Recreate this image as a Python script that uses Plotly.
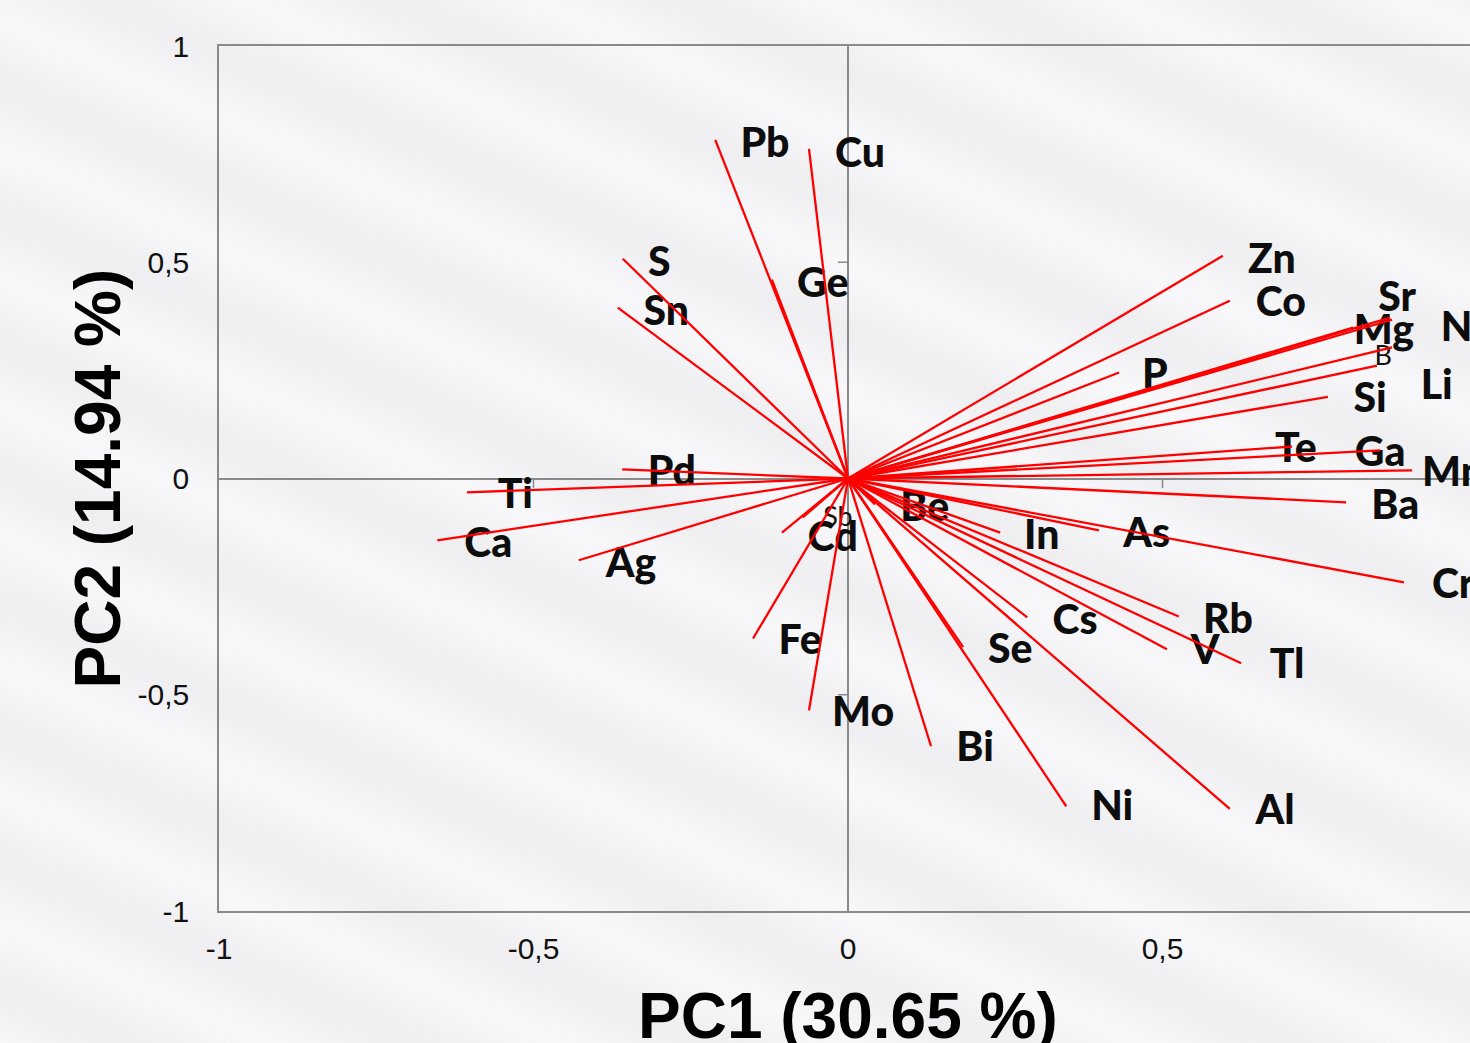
import base64
import plotly.graph_objects as go

# PCA loadings of the measured elements (PC1, PC2)
elements = ["Pb", "Cu", "Ge", "S", "Sn", "Zn", "Co", "P", "Sr", "Mg", "Na", "B", "Li", "Si",
            "Te", "Ga", "Mn", "Ba", "Cr", "As", "In", "Be", "Rb", "V", "Tl", "Cs", "Se", "Al",
            "Ni", "Bi", "Mo", "Fe", "Cd", "Sb", "Ag", "Ca", "Ti", "Pd"]
pc1 = [-0.211, -0.062, -0.121, -0.358, -0.366, 0.596, 0.607, 0.431, 0.862, 0.803, 0.865, 0.865,
       0.841, 0.763, 0.706, 0.846, 0.897, 0.792, 0.884, 0.399, 0.242, 0.043, 0.526, 0.507,
       0.625, 0.285, 0.183, 0.607, 0.347, 0.132, -0.062, -0.151, -0.105, -0.072, -0.428,
       -0.653, -0.606, -0.359]
pc2 = [0.783, 0.762, 0.460, 0.508, 0.395, 0.515, 0.411, 0.245, 0.372, 0.349, 0.367, 0.303,
       0.261, 0.189, 0.074, 0.065, 0.019, -0.055, -0.240, -0.120, -0.125, -0.060, -0.319,
       -0.395, -0.427, -0.321, -0.390, -0.764, -0.758, -0.619, -0.536, -0.370, -0.125,
       -0.090, -0.189, -0.143, -0.032, 0.021]

# Where each element name is written
label_x = [-0.132, 0.019, -0.040, -0.300, -0.289, 0.674, 0.688, 0.488, 0.873, 0.852, 0.984, 0.851,
           0.936, 0.830, 0.712, 0.846, 0.962, 0.870, 0.962, 0.475, 0.308, 0.122, 0.604, 0.568,
           0.698, 0.361, 0.258, 0.679, 0.420, 0.202, 0.024, -0.076, -0.024, -0.016, -0.345,
           -0.572, -0.529, -0.280]
label_y = [0.766, 0.745, 0.443, 0.493, 0.378, 0.500, 0.399, 0.232, 0.410, 0.334, 0.341, 0.278,
           0.207, 0.177, 0.062, 0.052, 0.006, -0.070, -0.252, -0.135, -0.139, -0.075, -0.333,
           -0.405, -0.437, -0.336, -0.403, -0.774, -0.765, -0.629, -0.548, -0.382, -0.144,
           -0.094, -0.204, -0.158, -0.045, 0.008]
small_labels = {"B", "Sb"}

tick_vals = [-1, -0.5, 0, 0.5, 1]
tick_text = ["-1", "-0,5", "0", "0,5", "1"]
x_title = "PC1 (30.65 %)"
y_title = "PC2 (14.94 %)"

LABEL_FONT = "Lato, 'Noto Sans', sans-serif"
AXIS_FONT = "'Liberation Sans', Arial, sans-serif"
GREY = "#8a8a8a"

W, H = 1470, 1043
M_L, M_R, M_T, M_B = 219, 0, 46, 132

# soft, blurred diagonal streaks for the page background
bands = "".join(
    f'<rect x="-800" y="{y}" width="3600" height="46" fill="#d9d9df"/>'
    for y in range(-900, 2000, 118)
)
texture_svg = (
    f'<svg xmlns="http://www.w3.org/2000/svg" width="{W}" height="{H}" viewBox="0 0 {W} {H}">'
    '<defs><filter id="soft" x="-20%" y="-20%" width="140%" height="140%">'
    '<feGaussianBlur stdDeviation="24"/></filter></defs>'
    f'<rect width="{W}" height="{H}" fill="#f9f9fb"/>'
    f'<g filter="url(#soft)" opacity="0.45"><g transform="rotate(24 {W/2} {H/2})">{bands}</g></g>'
    '</svg>'
)
texture_uri = "data:image/svg+xml;base64," + base64.b64encode(texture_svg.encode()).decode()

fig = go.Figure()

# element names (drawn first so the loading vectors sit on top)
big = [i for i, e in enumerate(elements) if e not in small_labels]
small = [i for i, e in enumerate(elements) if e in small_labels]
fig.add_trace(go.Scatter(
    x=[label_x[i] for i in big], y=[label_y[i] for i in big],
    text=[elements[i] for i in big], mode="text", textposition="middle center",
    textfont=dict(family=LABEL_FONT, size=41, color="#0d0d0d", weight=900),
    cliponaxis=False, hoverinfo="skip", showlegend=False))
fig.add_trace(go.Scatter(
    x=[label_x[i] for i in small], y=[label_y[i] for i in small],
    text=[elements[i] for i in small], mode="text", textposition="middle center",
    textfont=dict(family=LABEL_FONT, size=27, color="#111111"),
    cliponaxis=False, hoverinfo="skip", showlegend=False))

# loading vectors from the origin
vx, vy = [], []
for a, b in zip(pc1, pc2):
    vx += [0, a, None]
    vy += [0, b, None]
fig.add_trace(go.Scatter(x=vx, y=vy, mode="lines",
                         line=dict(color="#ff0000", width=2.3),
                         hoverinfo="skip", showlegend=False))

# small tick marks on the zero axes
tx, ty = [], []
for v in (-0.5, 0.5):
    tx += [v, v, None]
    ty += [0, -0.022, None]
    tx += [0, -0.016, None]
    ty += [v, v, None]
fig.add_trace(go.Scatter(x=tx, y=ty, mode="lines",
                         line=dict(color=GREY, width=1.5),
                         hoverinfo="skip", showlegend=False))

plot_w = W - M_L - M_R
plot_h = H - M_T - M_B
x_max = (W - 848) / 629.0

fig.update_layout(
    width=W, height=H,
    margin=dict(l=M_L, r=M_R, t=M_T, b=M_B),
    paper_bgcolor="#f6f6f8",
    plot_bgcolor="rgba(0,0,0,0)",
    images=[dict(source=texture_uri, xref="paper", yref="paper",
                 x=-M_L / plot_w, y=1 + M_T / plot_h,
                 sizex=W / plot_w, sizey=H / plot_h,
                 xanchor="left", yanchor="top", sizing="stretch", layer="below")],
    xaxis=dict(range=[-1, x_max], tickvals=tick_vals, ticktext=tick_text,
               showgrid=False, zeroline=True, zerolinecolor=GREY, zerolinewidth=1.5,
               showline=True, linecolor=GREY, linewidth=1.5, mirror=True,
               ticks="", ticklabelstandoff=10,
               tickfont=dict(family=AXIS_FONT, size=30, color="#111111")),
    yaxis=dict(range=[-1, 1], tickvals=tick_vals, ticktext=tick_text,
               showgrid=False, zeroline=True, zerolinecolor=GREY, zerolinewidth=1.5,
               showline=True, linecolor=GREY, linewidth=1.5,
               ticks="", ticklabelstandoff=22,
               tickfont=dict(family=AXIS_FONT, size=30, color="#111111")),
    annotations=[
        dict(text=x_title, xref="x", yref="paper", x=0.0, y=-0.121,
             xanchor="center", yanchor="middle", showarrow=False,
             font=dict(family=AXIS_FONT, size=64, color="#000000", weight="bold")),
        dict(text=y_title, xref="paper", yref="paper", x=-0.0975, y=0.5,
             xanchor="center", yanchor="middle", showarrow=False, textangle=-90,
             font=dict(family=AXIS_FONT, size=64, color="#000000", weight="bold")),
    ],
)

fig.write_html("out.html")
